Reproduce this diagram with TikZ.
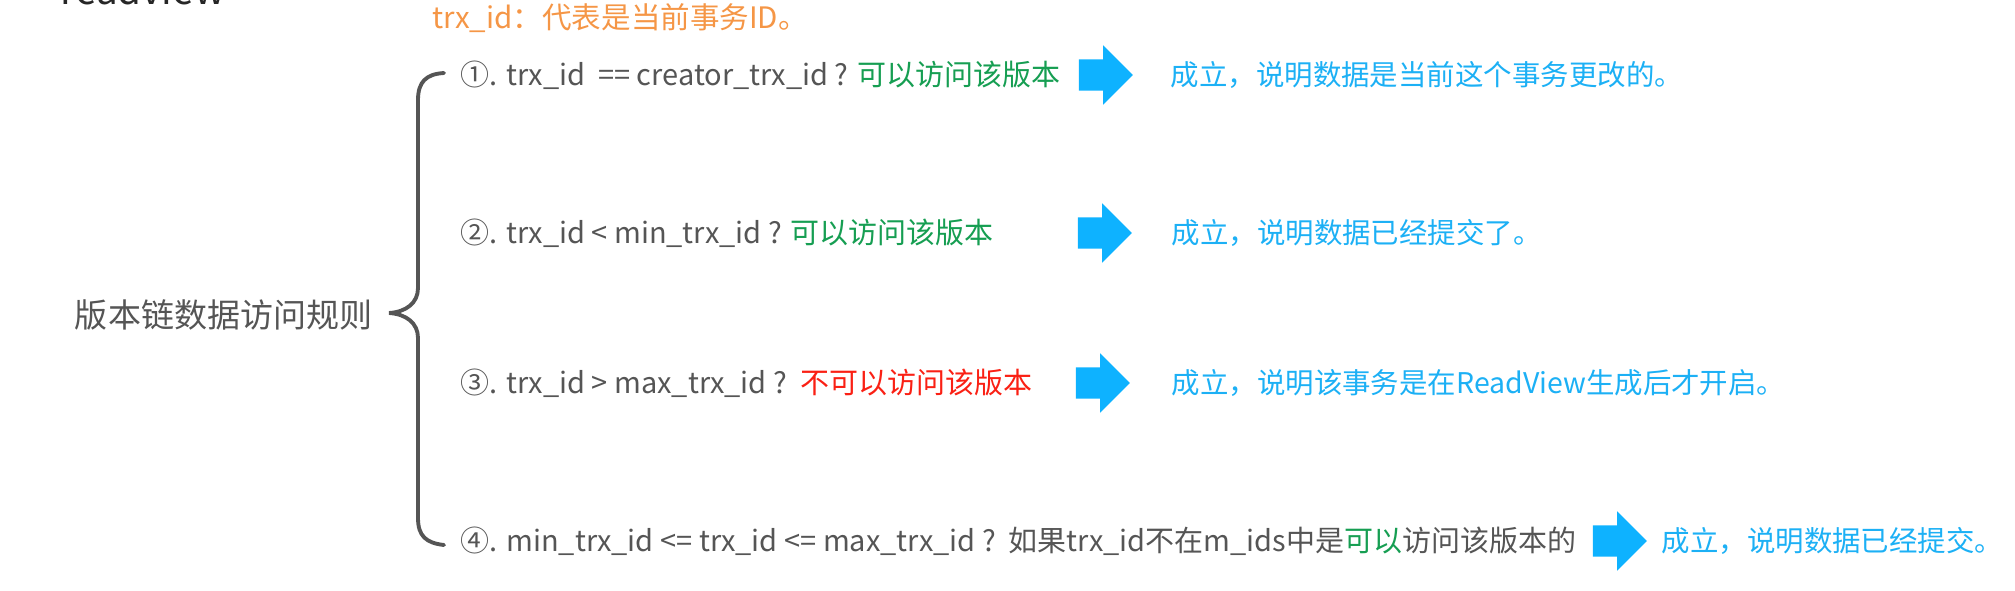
\documentclass[tikz,border=0pt]{standalone}
\usepackage{fontspec}
\setmainfont{Noto Sans CJK SC}
\usetikzlibrary{shapes.arrows}
\definecolor{txtgrey}{RGB}{85,85,85}
\definecolor{okgreen}{RGB}{22,158,82}
\definecolor{nored}{RGB}{250,32,20}
\definecolor{resblue}{RGB}{28,176,245}
\definecolor{arrblue}{RGB}{14,178,255}
\definecolor{noteorange}{RGB}{245,150,70}

\begin{document}
\begin{tikzpicture}[x=0.1mm,y=-0.1mm,
  rule/.style={anchor=west,inner sep=0pt,text=txtgrey,font=\fontsize{8.25}{10}\selectfont},
  res/.style={anchor=west,inner sep=0pt,text=resblue,font=\fontsize{8.1}{10}\selectfont},
  blk/.style={single arrow,fill=arrblue,draw=none,inner xsep=0pt,inner ysep=1.5mm,
    minimum height=5.4mm,single arrow head extend=1.4mm}]
\useasboundingbox (0,0) rectangle (2015,591);
% heading, cut off at the top
\node[anchor=base west,inner sep=0pt,text=black!85,font=\fontsize{11}{13}\selectfont] (head) at (60,4) {readview};
\node[anchor=west,inner sep=0pt,text=noteorange,font=\fontsize{8.4}{10}\selectfont] (note) at (432,18) {trx\_id：代表是当前事务ID。};
% left label and brace
\node[anchor=east,inner sep=0pt,text=txtgrey,font=\fontsize{9.4}{11}\selectfont] (rules) at (373,315) {版本链数据访问规则};
\draw[txtgrey,line width=1.1pt,line cap=round]
  (444,73) .. controls (426,74) and (418,82) .. (418,100) -- (418,288)
  .. controls (418,303) and (406,312) .. (389,313)
  .. controls (406,314) and (418,323) .. (418,338) -- (418,518)
  .. controls (418,536) and (426,543) .. (444,545);
% the four rules
\node[rule] (r1) at (460,75) {①. trx\_id\ \ == creator\_trx\_id ? {\color{okgreen}可以访问该版本}};
\node[rule] (r2) at (460,233) {②. trx\_id < min\_trx\_id ? {\color{okgreen}可以访问该版本}};
\node[rule] (r3) at (460,383) {③. trx\_id > max\_trx\_id ?\ \ {\color{nored}不可以访问该版本}};
\node[rule] (r4) at (460,541) {④. min\_trx\_id <= trx\_id <= max\_trx\_id ?\ \ 如果trx\_id不在m\_ids中是{\color{okgreen}可以}访问该版本的};
% arrows
\node[blk] (a1) at (1098,75) {};
\node[blk] (a2) at (1097,233) {};
\node[blk] (a3) at (1095,383) {};
\node[blk] (a4) at (1612,541) {};
% results
\node[res] (s1) at (1170,75) {成立，说明数据是当前这个事务更改的。};
\node[res] (s2) at (1171,233) {成立，说明数据已经提交了。};
\node[res] (s3) at (1171,383) {成立，说明该事务是在ReadView生成后才开启。};
\node[res] (s4) at (1661,541) {成立，说明数据已经提交。};
\end{tikzpicture}
\end{document}
